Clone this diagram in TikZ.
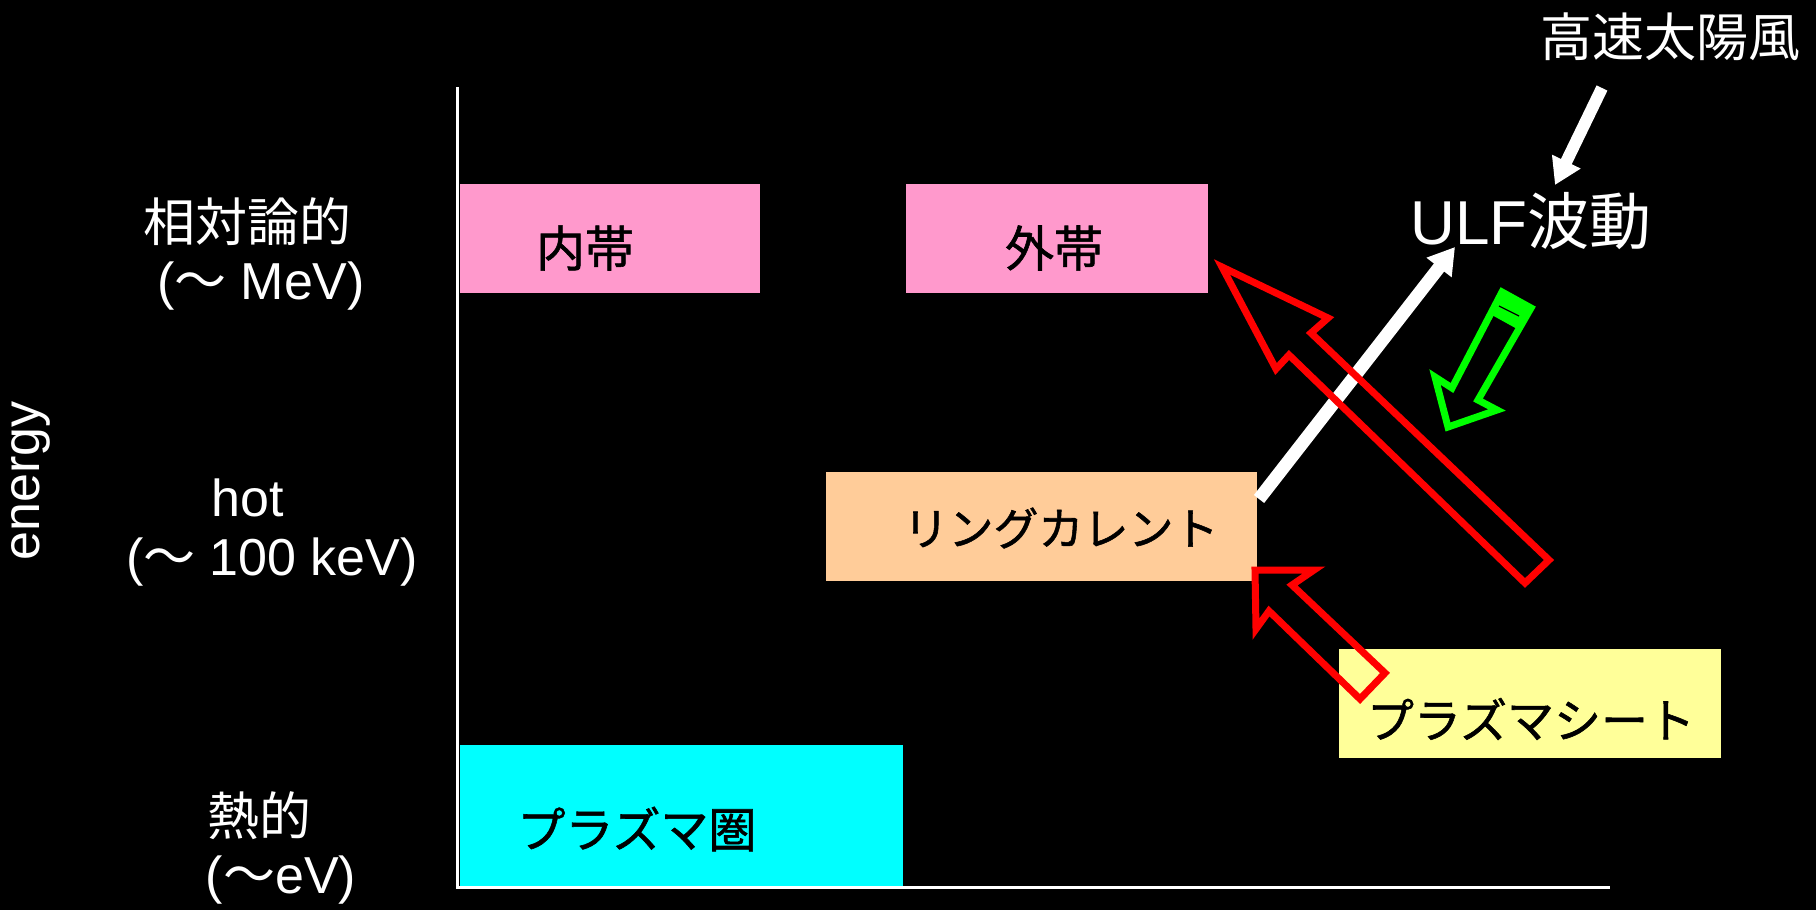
\documentclass[tikz,border=0pt]{standalone}
\usepackage{fontspec}
\setmainfont{Liberation Sans}
\newfontfamily\jp{Noto Sans CJK JP}
\newfontfamily\jpbox[FakeBold=1.2]{Noto Sans CJK JP}
\usetikzlibrary{arrows.meta}
\definecolor{pinkbox}{HTML}{FF99CC}
\definecolor{peachbox}{HTML}{FFCC99}
\definecolor{yellowbox}{HTML}{FFFF99}
\definecolor{cyanbox}{HTML}{00FFFF}
\definecolor{redarrow}{HTML}{FF0000}
\definecolor{greenarrow}{HTML}{00FF00}
\begin{document}
\begin{tikzpicture}[x=1pt,y=-1pt,
  every node/.style={inner sep=0pt,outer sep=0pt},
  box/.style={anchor=north west,draw=none},
  wlbl/.style={text=white,font=\fontsize{52}{60}\selectfont},
  blbl/.style={text=black,font=\fontsize{49}{56}\selectfont\jpbox},
  axisline/.style={draw=white,line width=3pt},
  wtarrow/.style={draw=white,line width=#1,-{Triangle[length=26pt,width=30pt]}},
  blockred/.style={draw=redarrow,line width=7pt,line join=miter,miter limit=10},
  blockgreen/.style={draw=greenarrow,line width=7pt,line join=miter,miter limit=10}]
\fill[black] (0,0) rectangle (1816,910);
\useasboundingbox (0,0) rectangle (1816,910);

% boxes
\node[box,fill=pinkbox,minimum width=300pt,minimum height=109pt] (inner) at (460,184) {};
\node[box,fill=pinkbox,minimum width=302pt,minimum height=109pt] (outer) at (906,184) {};
\node[box,fill=peachbox,minimum width=431pt,minimum height=109pt] (ring) at (826,472) {};
\node[box,fill=yellowbox,minimum width=382pt,minimum height=109pt] (sheet) at (1339,649) {};
\node[box,fill=cyanbox,minimum width=443pt,minimum height=141pt] (sphere) at (460,745) {};

% axes
\coordinate (ytop) at (457,87);
\coordinate (origin) at (457,887);
\coordinate (xend) at (1610,887);
\draw[axisline] (ytop) -- (origin) -- (xend);

% box labels
\node[blbl] (innerT) at (585,248) {内帯};
\node[blbl] (outerT) at (1054,248) {外帯};
\node[blbl,font=\fontsize{45}{52}\selectfont\jpbox] (ringT) at (1061,528) {リングカレント};
\node[blbl,font=\fontsize{47}{54}\selectfont\jpbox] (sheetT) at (1531,719) {プラズマシート};
\node[blbl,font=\fontsize{48}{54}\selectfont\jpbox] (sphereT) at (637,829) {プラズマ圏};

% axis labels
\node[wlbl] (rel) at (247,222) {{\jp 相対論的}};
\node[wlbl] (mev) at (261,286) {({\jp ～} MeV)};
\node[wlbl] (hot) at (248,498) {hot};
\node[wlbl] (kev) at (272,562) {({\jp ～} 100 keV)};
\node[wlbl] (therm) at (259,816) {{\jp 熱的}};
\node[wlbl] (ev) at (281,880) {({\jp ～}eV)};
\node[wlbl,rotate=90] (energy) at (31,481) {energy};

% top right labels
\node[wlbl] (sw) at (1670,37) {{\jp 高速太陽風}};
\node[wlbl,font=\fontsize{62}{70}\selectfont] (ulf) at (1531,221) {ULF{\jp 波動}};

% white arrows
\coordinate (ringNE) at (1259,499);
\coordinate (ulfSW) at (1455,247);
\draw[wtarrow=13pt] (ringNE) -- (ulfSW);
\coordinate (swS) at (1602,88);
\coordinate (ulfN) at (1555,185);
\draw[wtarrow=12pt] (swS) -- (ulfN);

% big red hollow arrow
\draw[blockred] (1222,267) -- (1328,318) -- (1311,333) -- (1549,560)
  -- (1525,583) -- (1289,355) -- (1276,369) -- cycle;

% small red hollow arrow
\draw[blockred] (1255,570) -- (1314,570) -- (1292,585) -- (1385,673)
  -- (1360,699) -- (1269,611) -- (1256,629) -- cycle;

% green hollow arrow
\fill[greenarrow] (1502,292) -- (1531,308) -- (1519,330) -- (1490,314) -- cycle;
\draw[blockgreen] (1502,292) -- (1531,308) -- (1478,400) -- (1497,410)
  -- (1448,427) -- (1435,377) -- (1452,388) -- cycle;
\draw[black,line width=1.2pt] (1499,306) -- (1519,316);
\end{tikzpicture}
\end{document}
